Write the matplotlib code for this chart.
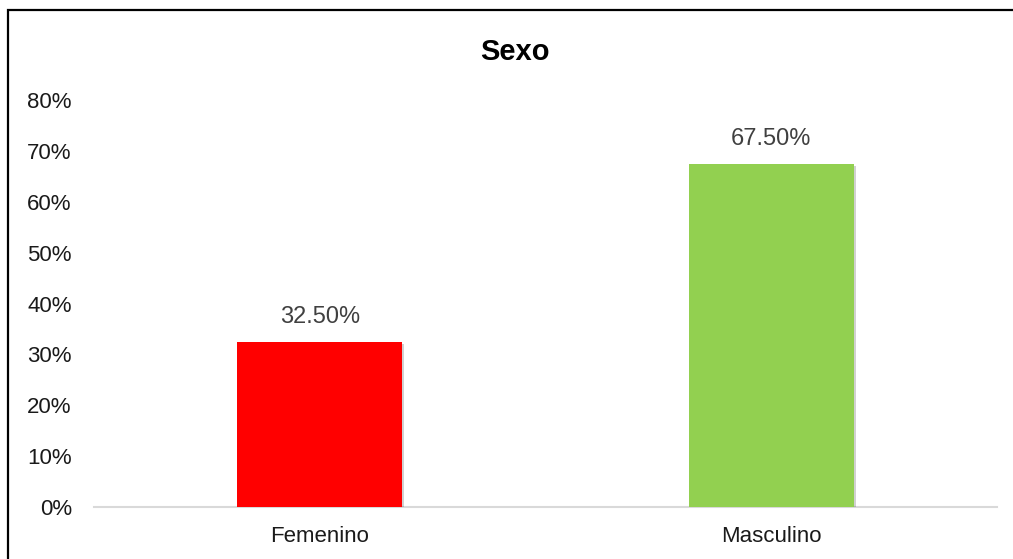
import matplotlib
matplotlib.use("Agg")
import matplotlib.pyplot as plt
import matplotlib.patheffects as pe
from matplotlib.patches import Rectangle

categories = ["Femenino", "Masculino"]
values = [32.5, 67.5]
bar_colors = ["#FF0000", "#92D050"]
yticks = [0, 10, 20, 30, 40, 50, 60, 70, 80]
title = "Sexo"

plt.rcParams['font.family'] = ['Liberation Sans', 'DejaVu Sans']

fig = plt.figure(figsize=(10.13, 5.59), dpi=100)
ax = fig.add_axes([94/1013, 1-507/559, (997-94)/1013, (507-100)/559])

x = list(range(len(categories)))
bars = ax.bar(x, values, width=0.366, color=bar_colors, zorder=3)
for b in bars:
    b.set_path_effects([pe.SimplePatchShadow(offset=(1.5, -1.5), shadow_rgbFace='#000000', alpha=0.18), pe.Normal()])

for xi, v in zip(x, values):
    ax.annotate(f"{v:.2f}%", (xi, v), xytext=(0, 18), textcoords='offset points',
                ha='center', va='center', fontsize=17, color='#404040')

ax.set_xlim(-0.5, len(categories) - 0.5)
ax.set_ylim(0, 80)
ax.set_yticks(yticks)
ax.set_yticklabels([f"{t}%" for t in yticks], fontsize=16, color='#1a1a1a')
ax.set_xticks(x)
ax.set_xticklabels(categories, fontsize=16, color='#1a1a1a')
ax.tick_params(axis='y', length=0, pad=16)
ax.tick_params(axis='x', length=0, pad=14)

for s in ['top', 'right', 'left']:
    ax.spines[s].set_visible(False)
ax.spines['bottom'].set_color('#D9D9D9')
ax.spines['bottom'].set_linewidth(1.5)
ax.spines['bottom'].set_zorder(2)

fig.text(515/1013, 1-52/559, title, ha='center', va='center', fontsize=21, fontweight='bold', color='black')

fig.patches.append(Rectangle((8/1013, -0.1), 1.2, 1.1 - 10/559 + 0.0, transform=fig.transFigure,
                             fill=False, edgecolor='black', linewidth=1.6, zorder=10))

fig.savefig("out.png", dpi=100)
